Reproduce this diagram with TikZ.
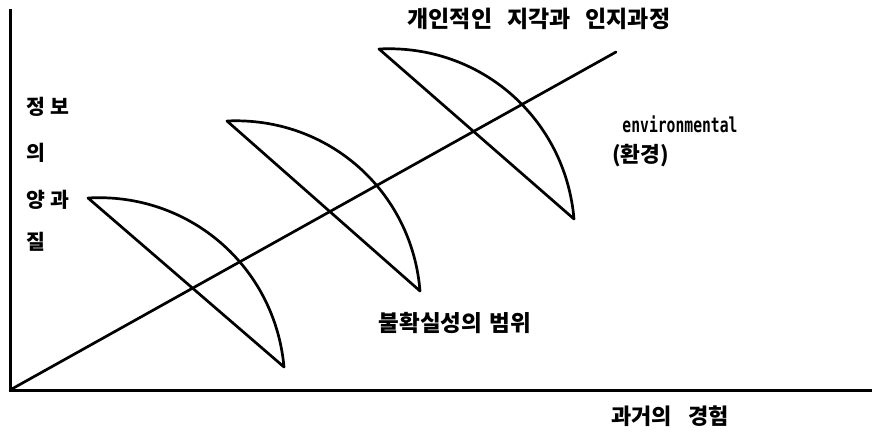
\documentclass[tikz,border=0pt]{standalone}
\usepackage{fontspec}
\setmainfont{Noto Sans CJK KR}
\newfontfamily\monofont{DejaVu Sans Mono}
\begin{document}
\begin{tikzpicture}[x=1pt,y=-1pt,
  thick line/.style={line width=2.7pt,line cap=round,line join=round},
  lbl/.style={inner sep=0pt,font=\fontsize{22.5}{24}\selectfont\bfseries},
  sidelbl/.style={inner sep=0pt,anchor=west,font=\fontsize{20.5}{22}\selectfont\bfseries}]
\useasboundingbox (0,0) rectangle (877,433);
% axes
\coordinate (O) at (10,390);
\coordinate (Ytop) at (10,9);
\coordinate (Xend) at (872,390);
\coordinate (Dend) at (616,52);
\draw[line width=3pt] (Ytop) -- (O) -- (Xend);
\draw[thick line] (O) -- (Dend);
% half discs
\coordinate (A1) at (88,198);  \coordinate (B1) at (284,367);
\coordinate (A2) at (227,121); \coordinate (B2) at (420,291);
\coordinate (A3) at (379,49);  \coordinate (B3) at (574,219);
\foreach \i in {1,2,3}{
  \draw[thick line] (A\i) -- (B\i) to[bend right=44] (A\i);
}
% labels
\node[sidelbl] (l1) at (26,107) {정\hspace{0.25em}보};
\node[sidelbl] (l2) at (26,153) {의};
\node[sidelbl] (l3) at (26,200) {양\hspace{0.25em}과};
\node[sidelbl] (l4) at (26,242) {질};
\node[lbl,font=\fontsize{23}{25}\selectfont\bfseries] (title) at (539,19) {개인적인\hspace{0.65em}지각과\hspace{0.65em}인지과정};
\node[inner sep=0pt,font=\monofont\bfseries\fontsize{14.7}{16}\selectfont] (env) at (680,124) {\scalebox{1}[1.4]{environmental}};
\node[lbl,anchor=west,font=\fontsize{21.5}{23}\selectfont\bfseries] (envk) at (612,156) {(환경)};
\node[lbl] (unc) at (455,323) {불확실성의\hspace{0.35em}범위};
\node[lbl,font=\fontsize{22}{24}\selectfont\bfseries] (past) at (670,416) {과거의\hspace{0.75em}경험};
\end{tikzpicture}
\end{document}
